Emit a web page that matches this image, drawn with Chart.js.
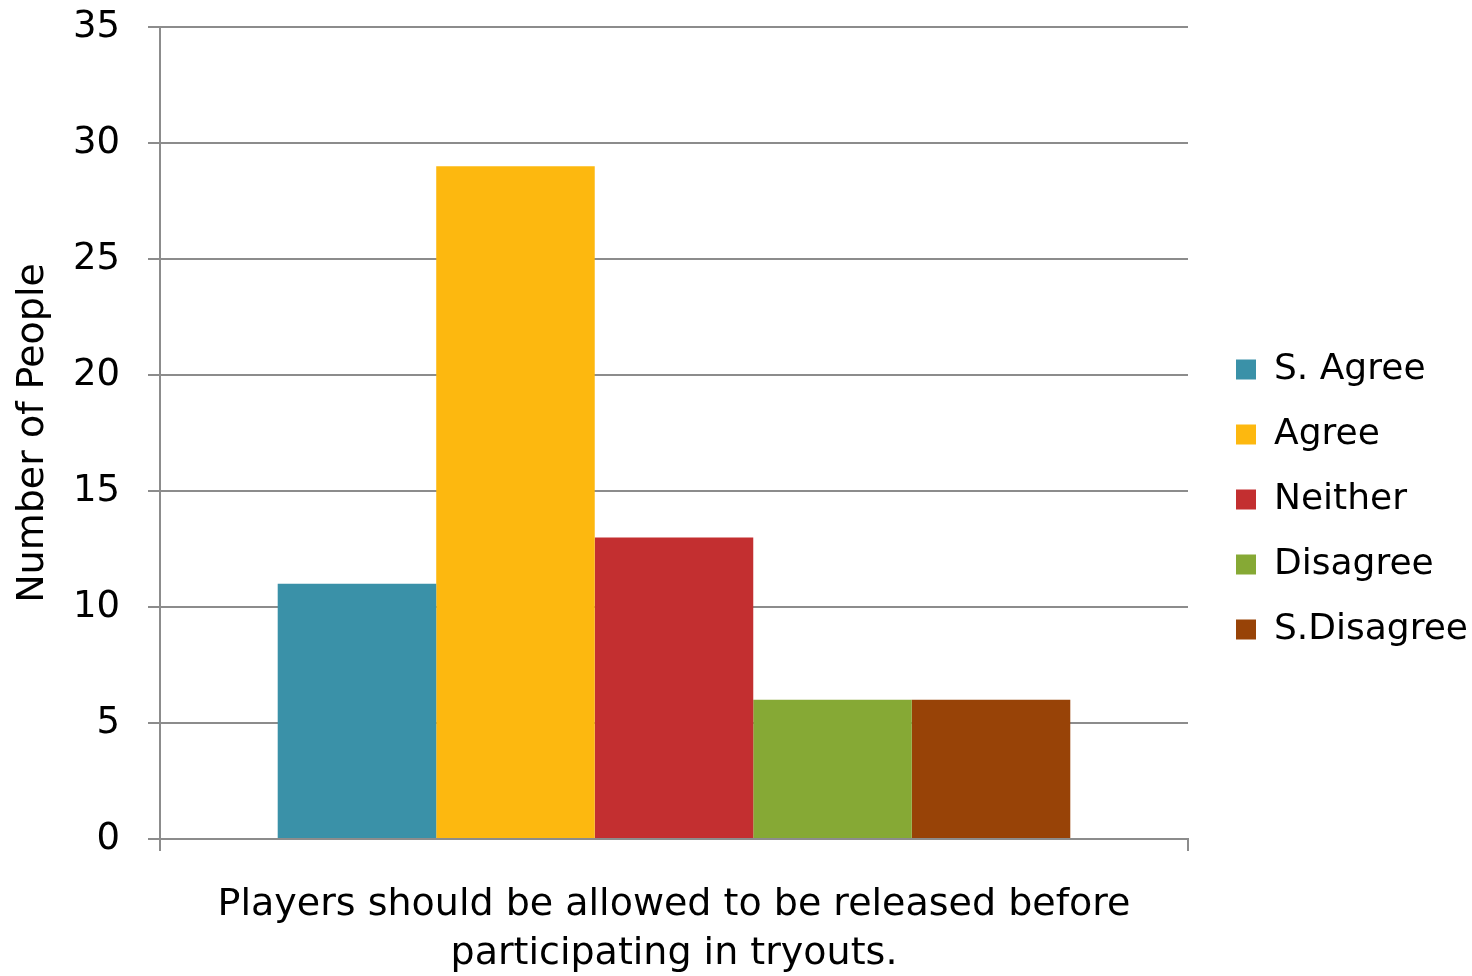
<!DOCTYPE html>
<html>
<head>
<meta charset="utf-8">
<script src="https://cdn.jsdelivr.net/npm/chart.js@4.4.1/dist/chart.umd.min.js"></script>
<style>
  html, body { margin: 0; padding: 0; background: #fff; }
</style>
</head>
<body>
<canvas id="myChart" width="1472" height="976"></canvas>
<script>
// data
const categories = [['Players should be allowed to be released before', 'participating in tryouts.']];
const seriesNames = ['S. Agree', 'Agree', 'Neither', 'Disagree', 'S.Disagree'];
const sAgree = [11];
const agree = [29];
const neither = [13];
const disagree = [6];
const sDisagree = [6];
const yTickValues = [0, 5, 10, 15, 20, 25, 30, 35];

const seriesValues = [sAgree, agree, neither, disagree, sDisagree];
const seriesColors = ['#3a91a8', '#fdb80f', '#c32f30', '#86a935', '#984307'];

const FONT = '"DejaVu Sans", sans-serif';
const gridGrey = '#8c8c8c';
const legendFontSize = 36;
const legendPad = 29;
const legendBox = 20;

// measure legend width so the plot area ends where the reference does
const mctx = document.createElement('canvas').getContext('2d');
mctx.font = legendFontSize + 'px ' + FONT;
const widest = Math.max(...seriesNames.map(n => mctx.measureText(n).width));
const legendW = legendPad + legendBox + legendFontSize / 2 + widest + 10;
const padRight = Math.max(0, 1472 - 1188 - legendW);

const legendNudge = {
  id: 'legendNudge',
  afterLayout(chart) {
    const lg = chart.legend;
    lg.left = 1236 - legendPad;
    lg.right = lg.left + lg.width;
    lg.top -= 2;
    lg.bottom -= 2;
  }
};

Chart.defaults.font.family = FONT;
Chart.defaults.color = '#000';

const ctx = document.getElementById('myChart');
new Chart(ctx, {
  type: 'bar',
  data: {
    labels: categories,
    datasets: seriesNames.map((name, i) => ({
      label: name,
      data: seriesValues[i],
      backgroundColor: seriesColors[i],
      borderWidth: 0,
      categoryPercentage: 0.771,
      barPercentage: 1
    }))
  },
  options: {
    responsive: false,
    animation: false,
    layout: { padding: { top: 27, right: padRight, left: 0, bottom: 0 } },
    plugins: {
      tooltip: { enabled: false },
      legend: {
        position: 'right',
        labels: {
          font: { size: legendFontSize },
          boxWidth: legendBox,
          boxHeight: legendBox,
          padding: legendPad,
          color: '#000'
        }
      }
    },
    scales: {
      y: {
        min: 0,
        max: 35,
        afterFit(scale) {
          scale.width = 160;
          scale.paddingTop = 0;
          scale.paddingBottom = 0;
        },
        afterBuildTicks(scale) { scale.ticks = yTickValues.map(v => ({ value: v })); },
        ticks: { font: { size: 37 }, padding: 28, color: '#000' },
        grid: { color: gridGrey, lineWidth: 2, tickLength: 12 },
        border: { color: gridGrey, width: 2 },
        title: {
          display: true,
          text: 'Number of People',
          font: { size: 38 },
          padding: { top: 10, bottom: 0 },
          color: '#000'
        }
      },
      x: {
        afterFit(scale) { scale.height = 137; },
        ticks: { font: { size: 38, lineHeight: 1.3 }, padding: 29, color: '#000', maxRotation: 0 },
        grid: { drawOnChartArea: false, color: gridGrey, lineWidth: 2, tickLength: 12 },
        border: { color: gridGrey, width: 2 }
      }
    }
  },
  plugins: [legendNudge]
});
</script>
</body>
</html>
